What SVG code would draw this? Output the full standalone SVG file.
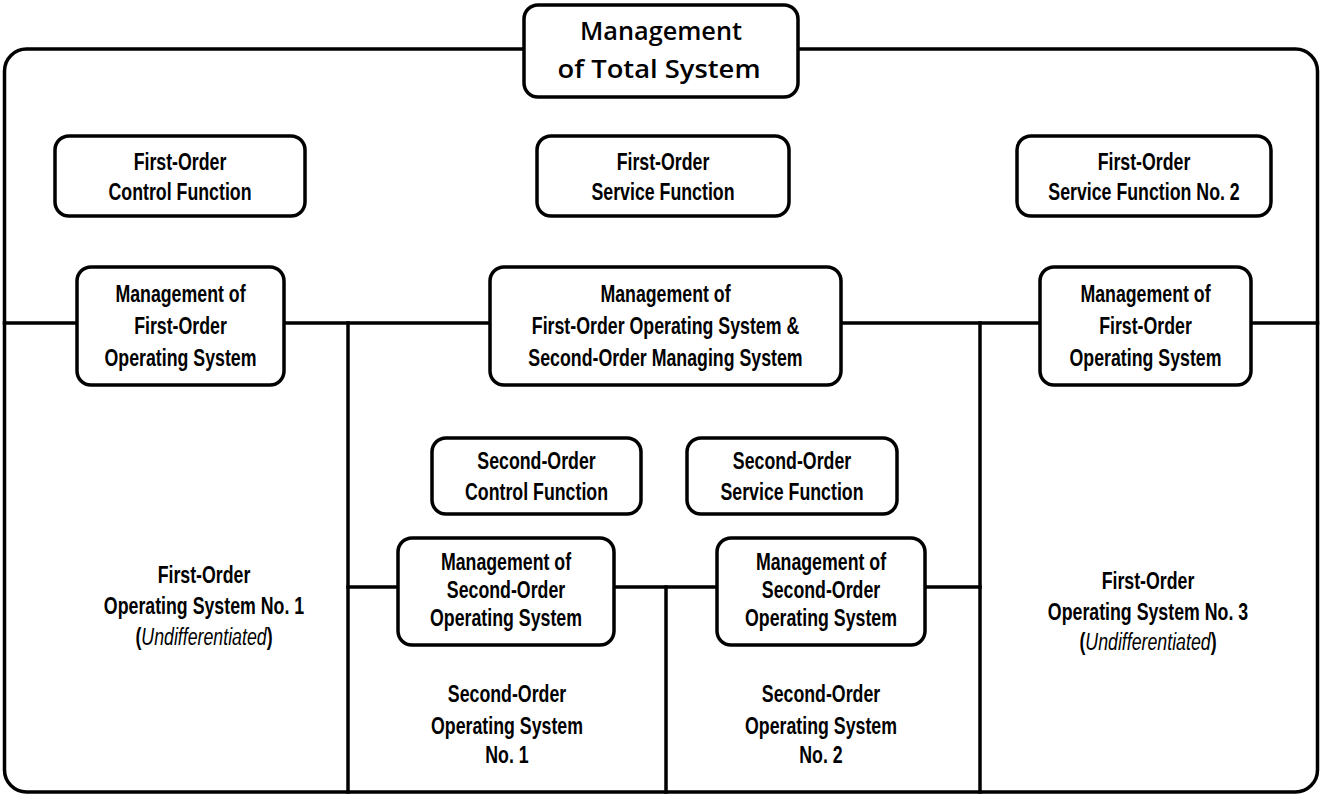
<svg xmlns="http://www.w3.org/2000/svg" width="1324" height="798" viewBox="0 0 1324 798">
  <style>
    .box { fill: #fff; stroke: #000; stroke-width: 3.5; }
    .ln { fill: none; stroke: #000; stroke-width: 3.5; stroke-linecap: square; }
    .lbl { font-family: "Liberation Sans", Arial, sans-serif; font-weight: bold; font-size: 24px; text-anchor: middle; fill: #000; }
    .it { font-style: italic; font-weight: normal; }
    .title { font-family: "Open Sans", "Lato", sans-serif; font-weight: 600; font-size: 26px; text-anchor: middle; fill: #000; }
  </style>
  <rect width="1324" height="798" fill="#fff"/>

  <!-- outer boundary of the total system -->
  <g id="frame">
    <rect class="ln" x="4.5" y="49" width="1313" height="743" rx="22"/>
  </g>

  <!-- connecting lines -->
  <g id="connectors" class="ln">
    <line x1="4.5" y1="323" x2="77" y2="323"/>
    <line x1="284" y1="323" x2="490" y2="323"/>
    <line x1="841" y1="323" x2="1040" y2="323"/>
    <line x1="1251" y1="323" x2="1317.5" y2="323"/>
    <line x1="348" y1="323" x2="348" y2="792"/>
    <line x1="980" y1="323" x2="980" y2="792"/>
    <line x1="348" y1="587" x2="398" y2="587"/>
    <line x1="614" y1="587" x2="717" y2="587"/>
    <line x1="925" y1="587" x2="980" y2="587"/>
    <line x1="666" y1="587" x2="666" y2="792"/>
  </g>

  <g id="mgmt-total">
    <rect class="box" x="524" y="5" width="274" height="92" rx="14"/>
    <text class="title" x="661" y="40" textLength="162" lengthAdjust="spacingAndGlyphs">Management</text>
    <text class="title" x="659" y="78" textLength="203" lengthAdjust="spacingAndGlyphs">of Total System</text>
  </g>

  <g id="fo-control">
    <rect class="box" x="55" y="136" width="250" height="80" rx="14"/>
    <g class="lbl" transform="translate(180 0) scale(0.74 1)">
      <text x="0" y="170">First-Order</text>
      <text x="0" y="200">Control Function</text>
    </g>
  </g>

  <g id="fo-service">
    <rect class="box" x="537" y="136" width="252" height="80" rx="14"/>
    <g class="lbl" transform="translate(663 0) scale(0.74 1)">
      <text x="0" y="170">First-Order</text>
      <text x="0" y="200">Service Function</text>
    </g>
  </g>

  <g id="fo-service-2">
    <rect class="box" x="1017" y="136" width="254" height="80" rx="14"/>
    <g class="lbl" transform="translate(1144 0) scale(0.74 1)">
      <text x="0" y="170">First-Order</text>
      <text x="0" y="200">Service Function No. 2</text>
    </g>
  </g>

  <g id="mgmt-fo-1">
    <rect class="box" x="77" y="267" width="207" height="118" rx="14"/>
    <g class="lbl" transform="translate(180.5 0) scale(0.74 1)">
      <text x="0" y="302">Management of</text>
      <text x="0" y="334">First-Order</text>
      <text x="0" y="366">Operating System</text>
    </g>
  </g>

  <g id="mgmt-fo-so">
    <rect class="box" x="490" y="267" width="351" height="118" rx="14"/>
    <g class="lbl" transform="translate(665.5 0) scale(0.74 1)">
      <text x="0" y="302">Management of</text>
      <text x="0" y="334">First-Order Operating System &amp;</text>
      <text x="0" y="366">Second-Order Managing System</text>
    </g>
  </g>

  <g id="mgmt-fo-3">
    <rect class="box" x="1040" y="267" width="211" height="118" rx="14"/>
    <g class="lbl" transform="translate(1145.5 0) scale(0.74 1)">
      <text x="0" y="302">Management of</text>
      <text x="0" y="334">First-Order</text>
      <text x="0" y="366">Operating System</text>
    </g>
  </g>

  <g id="so-control">
    <rect class="box" x="432" y="438" width="209" height="76" rx="14"/>
    <g class="lbl" transform="translate(536.5 0) scale(0.74 1)">
      <text x="0" y="469">Second-Order</text>
      <text x="0" y="500">Control Function</text>
    </g>
  </g>

  <g id="so-service">
    <rect class="box" x="687" y="438" width="210" height="76" rx="14"/>
    <g class="lbl" transform="translate(792 0) scale(0.74 1)">
      <text x="0" y="469">Second-Order</text>
      <text x="0" y="500">Service Function</text>
    </g>
  </g>

  <g id="mgmt-so-1">
    <rect class="box" x="398" y="538" width="216" height="107" rx="14"/>
    <g class="lbl" transform="translate(506 0) scale(0.74 1)">
      <text x="0" y="570">Management of</text>
      <text x="0" y="598">Second-Order</text>
      <text x="0" y="626">Operating System</text>
    </g>
  </g>

  <g id="mgmt-so-2">
    <rect class="box" x="717" y="538" width="208" height="107" rx="14"/>
    <g class="lbl" transform="translate(821 0) scale(0.74 1)">
      <text x="0" y="570">Management of</text>
      <text x="0" y="598">Second-Order</text>
      <text x="0" y="626">Operating System</text>
    </g>
  </g>

  <g id="fo-os-1">
    <g class="lbl" transform="translate(204 0) scale(0.74 1)">
      <text x="0" y="583">First-Order</text>
      <text x="0" y="614">Operating System No. 1</text>
      <text x="0" y="645">(<tspan class="it">Undifferentiated</tspan>)</text>
    </g>
  </g>

  <g id="so-os-1">
    <g class="lbl" transform="translate(507 0) scale(0.74 1)">
      <text x="0" y="702">Second-Order</text>
      <text x="0" y="734">Operating System</text>
      <text x="0" y="763">No. 1</text>
    </g>
  </g>

  <g id="so-os-2">
    <g class="lbl" transform="translate(821 0) scale(0.74 1)">
      <text x="0" y="702">Second-Order</text>
      <text x="0" y="734">Operating System</text>
      <text x="0" y="763">No. 2</text>
    </g>
  </g>

  <g id="fo-os-3">
    <g class="lbl" transform="translate(1148 0) scale(0.74 1)">
      <text x="0" y="589">First-Order</text>
      <text x="0" y="620">Operating System No. 3</text>
      <text x="0" y="650">(<tspan class="it">Undifferentiated</tspan>)</text>
    </g>
  </g>
</svg>
